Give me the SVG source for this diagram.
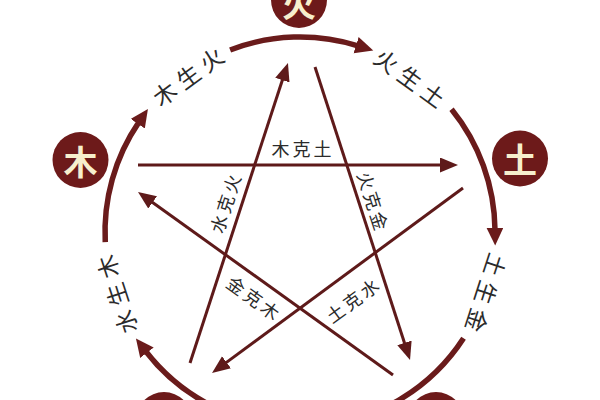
<svg xmlns="http://www.w3.org/2000/svg" width="600" height="400" viewBox="0 0 600 400">
<style>
.ring{fill:none;stroke:#6a1b1b;stroke-width:5.5;marker-end:url(#bigArrow)}
.ke{fill:none;stroke:#5e1a1a;stroke-width:3;marker-end:url(#smallArrow)}
.node circle{fill:#6d1a1a}
.node text{font-family:"Noto Sans CJK SC","Noto Sans",sans-serif;font-weight:700;font-size:34px;fill:#f7efcd;text-anchor:middle;dominant-baseline:central}
.lbl{font-family:"Noto Sans CJK SC","Noto Sans",sans-serif;fill:#2b2b2b;text-anchor:middle;dominant-baseline:central}
.sheng{font-size:23px;letter-spacing:6px}
.kel{font-size:18px;letter-spacing:3px}
</style>
<defs>
<marker id="bigArrow" markerUnits="userSpaceOnUse" markerWidth="20" markerHeight="18" refX="2" refY="8.5" orient="auto">
<path d="M0,0 L18,8.5 L0,17 Z" fill="#6a1b1b"/>
</marker>
<marker id="smallArrow" markerUnits="userSpaceOnUse" markerWidth="20" markerHeight="16" refX="3" refY="7.5" orient="auto">
<path d="M0,0 L18,7.5 L0,15 Z" fill="#5e1a1a"/>
</marker>
</defs>
<rect width="600" height="400" fill="#ffffff"/>
<g id="connectors">
<path class="ring" d="M105.26,242.21 A195,195 0 0 1 138.91,122.12"/>
<path class="ring" d="M230.12,49.95 A195,195 0 0 1 357.99,45.81"/>
<path class="ring" d="M451.53,109.29 A195,195 0 0 1 494.99,229.62"/>
<path class="ring" d="M463.55,338.20 A195,195 0 0 1 145.72,351.24"/>
<line class="ke" x1="138" y1="165" x2="443" y2="165"/>
<line class="ke" x1="463" y1="188" x2="224.1" y2="364.1"/>
<line class="ke" x1="190" y1="363" x2="283.3" y2="77.3"/>
<line class="ke" x1="315" y1="67" x2="405.4" y2="345.7"/>
<line class="ke" x1="393" y1="375" x2="150.2" y2="200.7"/>
</g>
<g id="labels">
<text class="lbl sheng" transform="translate(190,74) rotate(-36)">木生火</text>
<text class="lbl sheng" transform="translate(413,79) rotate(36)">火生土</text>
<text class="lbl sheng" transform="translate(486,296) rotate(108)">土生金</text>
<text class="lbl sheng" transform="translate(115,292) rotate(-108)">水生木</text>
<text class="lbl kel" x="303" y="148">木克土</text>
<text class="lbl kel" transform="translate(225,202) rotate(-72)">水克火</text>
<text class="lbl kel" transform="translate(374,202) rotate(72)">火克金</text>
<text class="lbl kel" transform="translate(255,298) rotate(36)">金克木</text>
<text class="lbl kel" transform="translate(353,299) rotate(-36)">土克水</text>
</g>
<g id="node-fire" class="node"><circle cx="299" cy="0" r="28"/><text x="299" y="2">火</text></g>
<g id="node-wood" class="node"><circle cx="80.5" cy="160" r="28"/><text x="80.5" y="160">木</text></g>
<g id="node-earth" class="node"><circle cx="520" cy="158.5" r="28"/><text x="520" y="158.5">土</text></g>
<g id="node-metal" class="node"><circle cx="436" cy="420" r="28"/></g>
<g id="node-water" class="node"><circle cx="164" cy="420" r="28"/></g>
</svg>
